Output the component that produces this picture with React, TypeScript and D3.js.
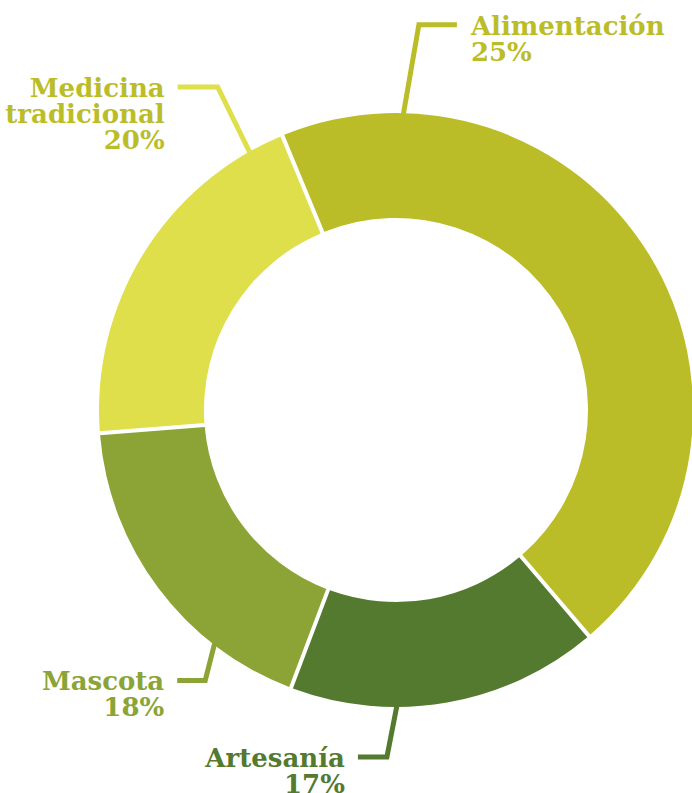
import React from "react";
import * as d3 from "d3";

// Categories in drawing order (clockwise from the top-left boundary)
const categories = ["Alimentación", "Artesanía", "Mascota", "Medicina tradicional"];
// Arc shares
const shares = [45, 17, 18, 20];
// Percent labels as printed
const percentLabels = ["25%", "17%", "18%", "20%"];
// Label text lines
const labelLines = [["Alimentación"], ["Artesanía"], ["Mascota"], ["Medicina", "tradicional"]];
const sliceColors = ["#BBBD28", "#537A2E", "#8BA435", "#DEDF4B"];
const textColors = ["#BBBD28", "#537A2E", "#8BA435", "#BBBD28"];

// Leader layout: anchor angle on outer rim, elbow polar point, horizontal run
const leaderAnchorDeg = [1.4, 179.8, 217.9, -29.6];
const leaderElbowDeg = [3.4, 181.5, 215.2, -28.9];
const leaderElbowR = [386, 347, 331, 369];
const leaderRun = [38, -29, -28, -40];

const W = 692;
const H = 793;
const CX = 396;
const CY = 410;
const R = 297;
const RI = 192;

function polar(deg: number, r: number): [number, number] {
  const a = (deg * Math.PI) / 180;
  return [CX + r * Math.sin(a), CY - r * Math.cos(a)];
}

export default function App() {
  const pie = d3
    .pie<number>()
    .sort(null)
    .value((d) => d)
    .startAngle((-22.5 * Math.PI) / 180)
    .endAngle(((360 - 22.5) * Math.PI) / 180);
  const arcs = pie(shares);
  const arc = d3
    .arc<d3.PieArcDatum<number>>()
    .innerRadius(RI)
    .outerRadius(R)
    .padRadius(R)
    .padAngle(4 / R);

  const fontFamily = "'DejaVu Serif', serif";
  const fontSize = 26;
  const lineH = 26;

  return (
    <svg
      width={W}
      height={H}
      style={{ position: "absolute", left: 0, top: 0, display: "block", background: "#fff" }}
    >
      <g transform={`translate(${CX},${CY})`}>
        {arcs.map((a, i) => (
          <path key={categories[i]} d={arc(a) || ""} fill={sliceColors[i]} />
        ))}
      </g>
      {categories.map((c, i) => {
        const p0 = polar(leaderAnchorDeg[i], R - 2);
        const p1 = polar(leaderElbowDeg[i], leaderElbowR[i]);
        const p2: [number, number] = [p1[0] + leaderRun[i], p1[1]];
        const right = leaderRun[i] > 0;
        const tx = p2[0] + (right ? 14 : -13);
        const lines = [...labelLines[i], percentLabels[i]];
        return (
          <g key={c}>
            <path
              d={d3.line()([p0, p1, p2]) || ""}
              fill="none"
              stroke={sliceColors[i]}
              strokeWidth={5}
              strokeLinejoin="miter"
            />
            <text
              x={tx}
              y={p1[1] + 10}
              textAnchor={right ? "start" : "end"}
              fill={textColors[i]}
              fontFamily={fontFamily}
              fontWeight="bold"
              fontSize={fontSize}
            >
              {lines.map((l, j) => (
                <tspan key={j} x={tx} dy={j === 0 ? 0 : lineH}>
                  {l}
                </tspan>
              ))}
            </text>
          </g>
        );
      })}
    </svg>
  );
}
